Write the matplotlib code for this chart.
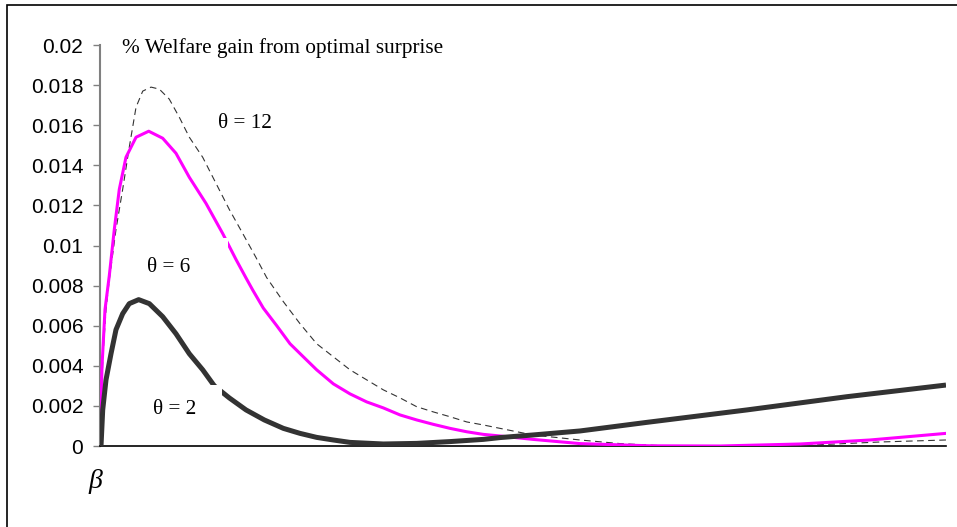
import matplotlib
matplotlib.use("Agg")
import matplotlib.pyplot as plt
from matplotlib.patches import Rectangle

# beta on [0, 1] (no ticks on the x axis), welfare gain
BETA_12 = [0.0, 0.0035, 0.0071, 0.011, 0.0189, 0.0268, 0.0346, 0.0426, 0.0505, 0.0603,
           0.0701, 0.0819, 0.0937, 0.1056, 0.1214, 0.1371, 0.1528, 0.1687, 0.1844, 0.197,
           0.2167, 0.2364, 0.2561, 0.2758, 0.2955, 0.3152, 0.3349, 0.3546, 0.3743, 0.394,
           0.4137, 0.4335, 0.4531, 0.4728, 0.5118, 0.5674, 0.6147, 0.6619, 0.7565, 0.8428,
           0.922, 1.0]
GAIN_12 = [0.0, 0.0045, 0.0068, 0.0083, 0.0108, 0.0128, 0.0149, 0.0169, 0.0177, 0.0179,
           0.0178, 0.0173, 0.0164, 0.0154, 0.0144, 0.0131, 0.0118, 0.0106, 0.0094, 0.0084,
           0.0072, 0.0061, 0.0051, 0.00445, 0.0038, 0.0033, 0.0028, 0.0024, 0.00196, 0.0017,
           0.00146, 0.0012, 0.00105, 0.00088, 0.00055, 0.0003, 0.00012, 0.00002, 0.0, 0.00005,
           0.0002, 0.0003]

BETA_6 = [0.0, 0.0024, 0.0059, 0.011, 0.0169, 0.0228, 0.0307, 0.0426, 0.0576, 0.0741,
          0.0898, 0.1056, 0.1253, 0.145, 0.1608, 0.1726, 0.1805, 0.193, 0.2089, 0.2246,
          0.2403, 0.2561, 0.2758, 0.2955, 0.3152, 0.3349, 0.3546, 0.3743, 0.394, 0.4137,
          0.4335, 0.4531, 0.4728, 0.5118, 0.5674, 0.6501, 0.7329, 0.8274, 0.9102, 1.0]
GAIN_6 = [0.0, 0.0040, 0.0068, 0.0085, 0.0108, 0.0128, 0.0144, 0.0154, 0.0157, 0.01535,
          0.0146, 0.0134, 0.0121, 0.0106, 0.0093, 0.00838, 0.00778, 0.00688, 0.0060, 0.0051,
          0.00445, 0.0038, 0.0031, 0.0026, 0.0022, 0.0019, 0.00155, 0.0013, 0.00108, 0.00088,
          0.00071, 0.00058, 0.0005, 0.00033, 0.00012, 0.00001, 0.0, 0.0001, 0.0003, 0.00063]

BETA_2 = [0.0012, 0.0032, 0.0071, 0.013, 0.0189, 0.0268, 0.0346, 0.0457, 0.0583, 0.0741,
          0.0898, 0.1056, 0.1214, 0.1351, 0.1528, 0.1726, 0.1942, 0.2167, 0.2364, 0.2561,
          0.2758, 0.2955, 0.3349, 0.3743, 0.4137, 0.4531, 0.4728, 0.5118, 0.5674, 0.6466,
          0.7648, 0.883, 1.0]
GAIN_2 = [0.0, 0.0018, 0.0033, 0.0046, 0.0058, 0.0066, 0.0071, 0.0073, 0.0071, 0.00645,
          0.0056, 0.0046, 0.0038, 0.0030, 0.0024, 0.0018, 0.0013, 0.00088, 0.00063, 0.00043,
          0.0003, 0.00018, 0.0001, 0.00013, 0.00022, 0.00033, 0.00042, 0.00055, 0.00075, 0.00118,
          0.0018, 0.00246, 0.00304]

YTICKS = [0, 0.002, 0.004, 0.006, 0.008, 0.01, 0.012, 0.014, 0.016, 0.018, 0.02]
YTICK_LABELS = ["0", "0.002", "0.004", "0.006", "0.008", "0.01", "0.012",
                "0.014", "0.016", "0.018", "0.02"]

W, H = 957, 527


def fx(x):
    return x / W


def fy(y):
    return 1 - y / H


fig = plt.figure(figsize=(W / 100, H / 100), dpi=100)
ax = fig.add_axes([fx(100), fy(446), fx(946) - fx(100), fy(45) - fy(446)])

ax.plot(BETA_12, GAIN_12, color="#333333", lw=0.8, ls=(0, (6, 4)), zorder=3)
ax.plot(BETA_6, GAIN_6, color="#ff00ff", lw=2.2, solid_joinstyle="round", zorder=4)
ax.plot(BETA_2, GAIN_2, color="#333333", lw=3.6, solid_joinstyle="round",
        solid_capstyle="butt", zorder=5)

ax.set_xlim(0, 1)
ax.set_ylim(0, 0.02)
ax.set_xticks([])
ax.set_yticks(YTICKS)
ax.set_yticklabels(YTICK_LABELS, fontsize=15, family="Liberation Sans")
ax.tick_params(axis="y", length=5, width=1.0, color="#808080", pad=7)
for s in ("top", "right"):
    ax.spines[s].set_visible(False)
ax.spines["left"].set_color("#808080")
ax.spines["left"].set_linewidth(1.5)
ax.spines["bottom"].set_color("black")
ax.spines["bottom"].set_linewidth(1.2)
ax.set_facecolor("none")

# white label boxes that cut through the curves, as in the original
fig.patches.append(Rectangle((fx(140), fy(290)), fx(228) - fx(140), fy(238) - fy(290),
                             transform=fig.transFigure, fc="white", ec="none", zorder=1))
fig.patches.append(Rectangle((fx(146), fy(432)), fx(222) - fx(146), fy(385) - fy(432),
                             transform=fig.transFigure, fc="white", ec="none", zorder=1))

# outer frame
fig.patches.append(Rectangle((fx(7), fy(540)), fx(1000), fy(5) - fy(540),
                             transform=fig.transFigure, fill=False, ec="black",
                             lw=1.2, zorder=2))

serif = "Liberation Serif"
fig.text(fx(122), fy(48), "% Welfare gain from optimal surprise", family=serif,
         fontsize=15.3, va="center", ha="left")
fig.text(fx(218), fy(123), "\u03b8 = 12", family=serif, fontsize=15.3, va="center", ha="left")
fig.text(fx(147), fy(267), "\u03b8 = 6", family=serif, fontsize=15.3, va="center", ha="left")
fig.text(fx(153), fy(410), "\u03b8 = 2", family=serif, fontsize=15.3, va="center", ha="left")
fig.text(fx(95), fy(482), "\u03b2", family=serif, style="italic", fontsize=20,
         va="center", ha="center")

fig.savefig("out.png", dpi=100)
